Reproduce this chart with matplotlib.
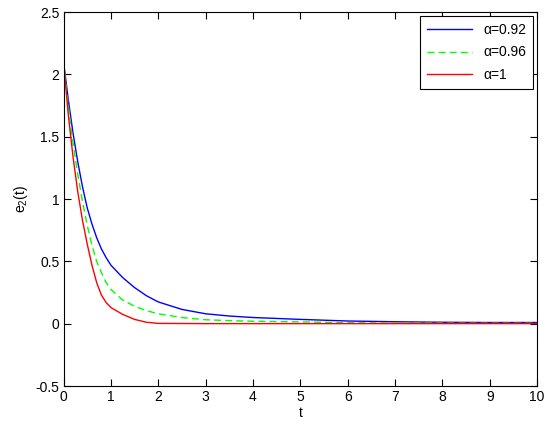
import matplotlib
matplotlib.use("Agg")
import matplotlib.pyplot as plt

# values
t = [0, 0.1, 0.2, 0.3, 0.4, 0.5, 0.6, 0.7, 0.8, 0.9, 1.0, 1.25, 1.5, 1.75,
     2.0, 2.5, 3.0, 3.5, 4.0, 5.0, 6.0, 7.0, 8.0, 9.0, 10.0]
e2_092 = [2.1, 1.8, 1.53, 1.3, 1.1, 0.93, 0.8, 0.69, 0.6, 0.53, 0.47, 0.37,
          0.29, 0.225, 0.175, 0.115, 0.08, 0.062, 0.05, 0.035, 0.022, 0.016,
          0.012, 0.01, 0.01]
e2_096 = [2.1, 1.75, 1.45, 1.2, 0.98, 0.79, 0.63, 0.5, 0.41, 0.33, 0.275,
          0.19, 0.14, 0.105, 0.08, 0.05, 0.032, 0.025, 0.02, 0.015, 0.008,
          0.006, 0.005, 0.004, 0.004]
e2_1 = [2.1, 1.68, 1.34, 1.06, 0.83, 0.64, 0.47, 0.33, 0.23, 0.17, 0.13,
        0.075, 0.035, 0.012, 0.003, 0.002, 0.001, 0.001, 0.001, 0.001, 0.001,
        0.001, 0.001, 0.001, 0.001]
labels = ["α=0.92", "α=0.96", "α=1"]

plt.rcParams["font.family"] = ["Liberation Sans", "DejaVu Sans"]
plt.rcParams["mathtext.default"] = "regular"
plt.rcParams["font.size"] = 10

fig = plt.figure(figsize=(5.5, 4.29), dpi=100)
ax = fig.add_axes([0.1155, 0.10, 0.861, 0.872])

ax.plot(t, e2_092, color="#0000ff", lw=1, label=labels[0])
ax.plot(t, e2_096, color="#00ff00", lw=1, ls=(0, (5, 3)), label=labels[1])
ax.plot(t, e2_1, color="#ff0000", lw=1, label=labels[2])

ax.set_xlim(0, 10)
ax.set_ylim(-0.5, 2.5)
ax.set_xticks(range(0, 11))
ax.set_yticks([-0.5, 0, 0.5, 1, 1.5, 2, 2.5])
ax.set_yticklabels(["-0.5", "0", "0.5", "1", "1.5", "2", "2.5"])
ax.tick_params(direction="in", top=True, right=True, length=5, width=0.8,
               pad=3)
for s in ax.spines.values():
    s.set_linewidth(0.8)
ax.set_xlabel("t", labelpad=1)
ax.set_ylabel("e$_2$(t)", labelpad=4)

leg = ax.legend(loc="upper right", fancybox=False, framealpha=1,
                edgecolor="black", borderaxespad=0.3, handlelength=3.2,
                labelspacing=0.6, borderpad=0.5)
leg.get_frame().set_linewidth(0.8)

fig.savefig("out.png", dpi=100)
